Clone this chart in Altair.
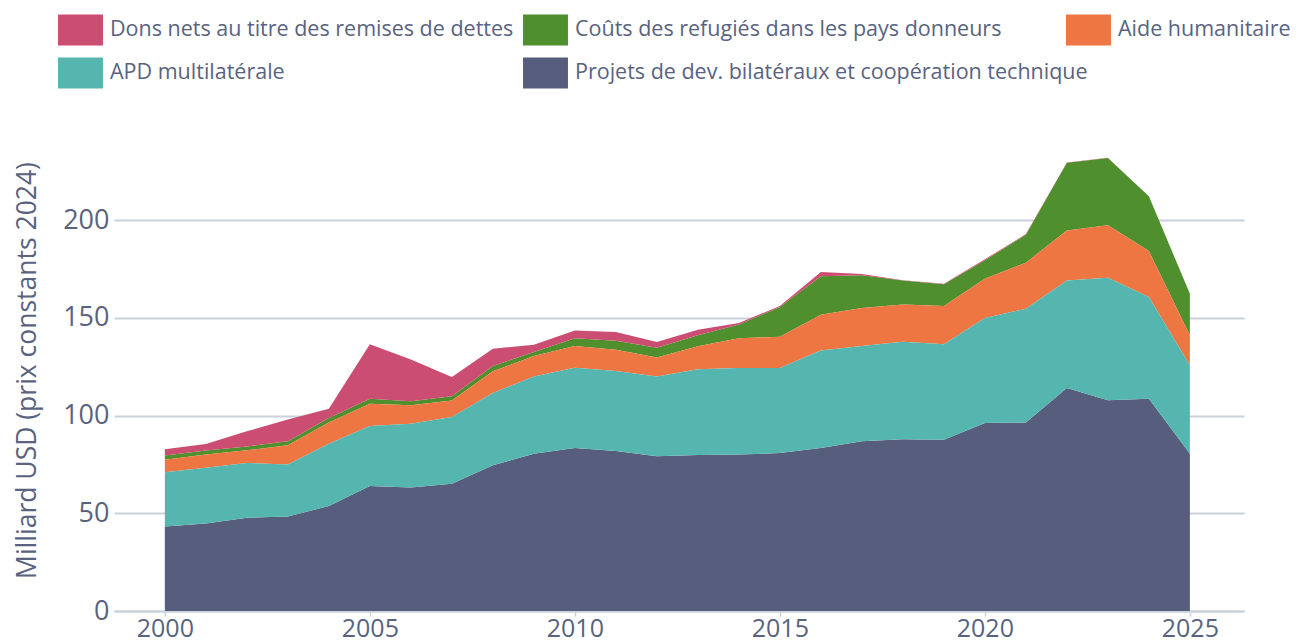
import altair as alt
import pandas as pd

years = list(range(2000, 2026))

S_DEBT = "Dons nets au titre des remises de dettes"
S_REF = "Coûts des refugiés dans les pays donneurs"
S_HUM = "Aide humanitaire"
S_MULTI = "APD multilatérale"
S_BIL = "Projets de dev. bilatéraux et coopération technique"

bilateral = [43.2, 44.7, 47.7, 48.4, 53.7, 63.9, 63.2, 65.1, 74.5, 80.5, 83.4, 81.8, 79.1,
             79.8, 80.0, 80.8, 83.4, 86.8, 87.8, 87.6, 96.2, 96.4, 114.1, 107.8, 108.6, 80.5]
multilateral = [27.8, 28.6, 28.0, 26.5, 31.9, 30.7, 32.6, 34.1, 37.0, 39.5, 41.0, 41.0, 40.9,
                43.8, 44.3, 43.5, 49.8, 48.7, 49.9, 48.8, 53.7, 58.2, 55.0, 62.7, 52.0, 45.2]
humanitarian = [6.4, 6.8, 6.5, 9.9, 10.8, 11.4, 9.4, 8.5, 11.1, 10.4, 11.1, 10.9, 9.7,
                11.8, 15.2, 16.0, 18.4, 19.5, 19.1, 19.6, 20.1, 23.6, 25.6, 26.8, 23.5, 15.3]
refugees = [2.2, 2.0, 2.0, 2.0, 2.3, 2.6, 2.1, 2.1, 2.7, 2.1, 4.0, 4.6, 5.0,
            5.6, 7.0, 15.2, 19.6, 16.7, 12.2, 11.2, 9.4, 14.3, 34.6, 34.4, 28.0, 21.3]
debt = [3.1, 3.3, 7.7, 11.2, 4.8, 27.8, 21.4, 9.9, 8.9, 3.7, 4.0, 4.4, 2.9,
        2.9, 0.8, 0.5, 2.2, 0.7, 0.2, 0.2, 0.5, 0.3, 0.1, 0.1, 0.1, 0.0]

series_names = [S_BIL, S_MULTI, S_HUM, S_REF, S_DEBT]
series_values = [bilateral, multilateral, humanitarian, refugees, debt]

C_DEBT = "#cc4d72"
C_REF = "#4f8f2e"
C_HUM = "#ee7642"
C_MULTI = "#55b5af"
C_BIL = "#575d7c"

TXT = "#596380"
GRID = "#c9d1dc"
FONT = "Open Sans"

rows = []
for rank, (name, vals) in enumerate(zip(series_names, series_values)):
    for y, v in zip(years, vals):
        rows.append({"year": y, "series": name, "rank": rank, "value": v})
df = pd.DataFrame(rows)

base = alt.Chart(df).transform_stack(
    stack="value", groupby=["year"], as_=["y0", "y1"],
    sort=[alt.SortField("rank", order="ascending")]
)

x_enc = alt.X(
    "year:Q",
    scale=alt.Scale(domain=[1998.76, 2026.32], nice=False, zero=False),
    axis=alt.Axis(values=[2000, 2005, 2010, 2015, 2020, 2025], format="d", title=None,
                  grid=False, domain=True, domainColor=GRID, domainWidth=2,
                  ticks=True, tickColor=GRID, tickSize=5, tickWidth=1.5,
                  labelFontSize=25, labelColor=TXT, labelFont=FONT, labelPadding=0,
                  labelFlush=False),
)
y_enc = alt.Y(
    "y1:Q",
    scale=alt.Scale(domain=[0, 244], nice=False),
    axis=alt.Axis(values=[0, 50, 100, 150, 200], grid=True, gridColor=GRID, gridWidth=2,
                  domain=False, ticks=False, labelPadding=5, labelFontSize=27,
                  labelColor=TXT, labelFont=FONT,
                  title="Milliard USD (prix constants 2024)", titleFontSize=26.5,
                  titleColor=TXT, titleFont=FONT, titleFontWeight="normal",
                  titleAngle=270, titleX=-87, titleY=236, titleAlign="center",
                  titleBaseline="middle"),
)

SYM = "M-1.45,-1H1.45V1H-1.45Z"


def legend(pad, lx, ly):
    return alt.Legend(orient="none", legendX=lx, legendY=ly, direction="horizontal",
                      title=None, symbolType=SYM, symbolSize=961, symbolStrokeWidth=0,
                      symbolOpacity=1, labelFontSize=21.5, labelColor=TXT, labelFont=FONT,
                      labelOffset=14, columnPadding=pad, padding=0, labelLimit=1000)


def layer(names, colors, leg):
    return base.transform_filter(
        alt.FieldOneOfPredicate(field="series", oneOf=names)
    ).mark_area(opacity=1).encode(
        x=x_enc, y=y_enc, y2="y0:Q",
        color=alt.Color("series:N", scale=alt.Scale(domain=names, range=colors), legend=leg),
    )


layer_a = layer([S_DEBT, S_REF], [C_DEBT, C_REF], legend(9, -49, -119.6))
layer_c = layer([S_HUM], [C_HUM], legend(9, 959, -119.6))
layer_b = layer([S_MULTI, S_BIL], [C_MULTI, C_BIL], legend(238, -49, -76.6))

chart = alt.layer(layer_a, layer_c, layer_b).resolve_scale(color="independent").properties(
    width=1130, height=477,
    autosize=alt.AutoSizeParams(type="none"),
    padding={"left": 106, "top": 126, "right": 49, "bottom": 42},
).configure(font=FONT).configure_view(stroke=None)

chart.save("out.html", embed_options={"renderer": "svg", "actions": False})
